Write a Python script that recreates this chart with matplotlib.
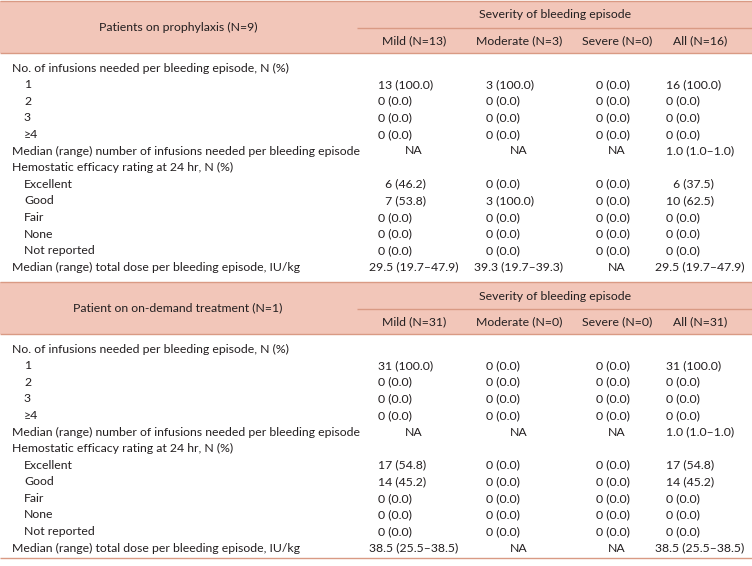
import matplotlib
matplotlib.use("Agg")
import matplotlib.pyplot as plt

plt.rcParams['font.family'] = ['Lato', 'DejaVu Sans']

FS = '\u2007'  # figure space, pads single digit counts

ROW_LABELS = ["No. of infusions needed per bleeding episode, N (%)",
              "1", "2", "3", "\u22654",
              "Median (range) number of infusions needed per bleeding episode",
              "Hemostatic efficacy rating at 24 hr, N (%)",
              "Excellent", "Good", "Fair", "None", "Not reported",
              "Median (range) total dose per bleeding episode, IU/kg"]
ROW_INDENT = [0, 1, 1, 1, 1, 0, 0, 1, 1, 1, 1, 1, 0]
CENTERED_ROWS = [5, 12]

SEVERITY_TITLE = "Severity of bleeding episode"

# table 1: prophylaxis
title1 = "Patients on prophylaxis (N=9)"
cols1 = ["Mild (N=13)", "Moderate (N=3)", "Severe (N=0)", "All (N=16)"]
mild1 = ["", "13 (100.0)", "0 (0.0)", "0 (0.0)", "0 (0.0)", "NA", "",
         FS + "6 (46.2)", FS + "7 (53.8)", "0 (0.0)", "0 (0.0)", "0 (0.0)", "29.5 (19.7\u201347.9)"]
moderate1 = ["", "3 (100.0)", "0 (0.0)", "0 (0.0)", "0 (0.0)", "NA", "",
             "0 (0.0)", "3 (100.0)", "0 (0.0)", "0 (0.0)", "0 (0.0)", "39.3 (19.7\u201339.3)"]
severe1 = ["", "0 (0.0)", "0 (0.0)", "0 (0.0)", "0 (0.0)", "NA", "",
           "0 (0.0)", "0 (0.0)", "0 (0.0)", "0 (0.0)", "0 (0.0)", "NA"]
all1 = ["", "16 (100.0)", "0 (0.0)", "0 (0.0)", "0 (0.0)", "1.0 (1.0\u20131.0)", "",
        FS + "6 (37.5)", "10 (62.5)", "0 (0.0)", "0 (0.0)", "0 (0.0)", "29.5 (19.7\u201347.9)"]

# table 2: on-demand
title2 = "Patient on on-demand treatment (N=1)"
cols2 = ["Mild (N=31)", "Moderate (N=0)", "Severe (N=0)", "All (N=31)"]
mild2 = ["", "31 (100.0)", "0 (0.0)", "0 (0.0)", "0 (0.0)", "NA", "",
         "17 (54.8)", "14 (45.2)", "0 (0.0)", "0 (0.0)", "0 (0.0)", "38.5 (25.5\u201338.5)"]
moderate2 = ["", "0 (0.0)", "0 (0.0)", "0 (0.0)", "0 (0.0)", "NA", "",
             "0 (0.0)", "0 (0.0)", "0 (0.0)", "0 (0.0)", "0 (0.0)", "NA"]
severe2 = ["", "0 (0.0)", "0 (0.0)", "0 (0.0)", "0 (0.0)", "NA", "",
           "0 (0.0)", "0 (0.0)", "0 (0.0)", "0 (0.0)", "0 (0.0)", "NA"]
all2 = ["", "31 (100.0)", "0 (0.0)", "0 (0.0)", "0 (0.0)", "1.0 (1.0\u20131.0)", "",
        "17 (54.8)", "14 (45.2)", "0 (0.0)", "0 (0.0)", "0 (0.0)", "38.5 (25.5\u201338.5)"]

BAND = '#f2c6b9'
LINE = '#d99a84'
TXT = '#231f20'
FONT = 8.8

COL_LEFT = [378, 486, 596, 666]
COL_CENTER = [414, 519, 617, 700]
ROW_STEP = 16.6

fig = plt.figure(figsize=(7.52, 5.66), dpi=100)
ax = fig.add_axes([0, 0, 1, 1])
ax.set_xlim(0, 752)
ax.set_ylim(566, 0)
ax.axis('off')


def draw_table(top, title, cols, columns):
    band_h = 52
    ax.fill_between([0, 752], top, top + band_h, color=BAND, lw=0)
    ax.hlines([top, top + band_h], 0, 752, color=LINE, lw=1)
    ax.hlines(top + 27, 357, 752, color=LINE, lw=1)
    ax.text(178, top + band_h / 2, title, ha='center', va='center', fontsize=FONT, color=TXT)
    ax.text(555, top + 14, SEVERITY_TITLE, ha='center', va='center', fontsize=FONT, color=TXT)
    for c, name in enumerate(cols):
        ax.text(COL_CENTER[c], top + 40, name, ha='center', va='center', fontsize=FONT, color=TXT)
    y0 = top + band_h + 15
    for r, label in enumerate(ROW_LABELS):
        y = y0 + r * ROW_STEP
        ax.text(12 + 12 * ROW_INDENT[r], y, label, ha='left', va='center', fontsize=FONT, color=TXT)
        for c, values in enumerate(columns):
            if r in CENTERED_ROWS:
                ax.text(COL_CENTER[c], y, values[r], ha='center', va='center', fontsize=FONT, color=TXT)
            else:
                ax.text(COL_LEFT[c], y, values[r], ha='left', va='center', fontsize=FONT, color=TXT)
    return y0 + (len(ROW_LABELS) - 1) * ROW_STEP


last1 = draw_table(1, title1, cols1, [mild1, moderate1, severe1, all1])
last2 = draw_table(282, title2, cols2, [mild2, moderate2, severe2, all2])
ax.hlines(last2 + 10, 0, 752, color=LINE, lw=1)

fig.savefig('out.png', dpi=100)
